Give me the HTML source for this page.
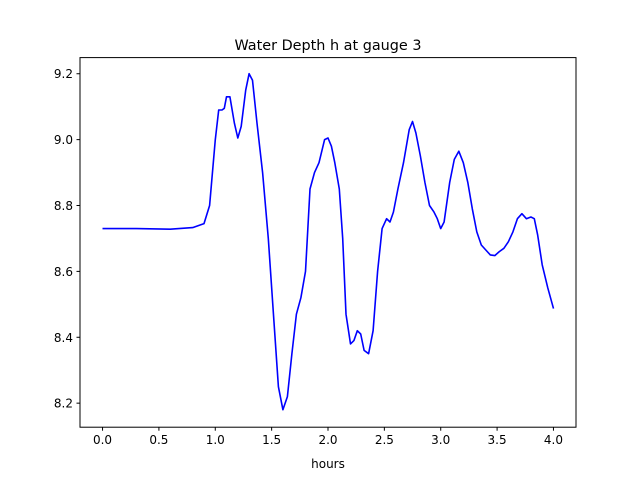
<!DOCTYPE html>
<html><head><meta charset="utf-8"><style>
html,body{margin:0;padding:0;background:#fff}
svg{display:block;font-family:"DejaVu Sans","Liberation Sans",sans-serif}
</style></head><body>
<svg id="chart" width="640" height="480" viewBox="0 0 640 480" xmlns="http://www.w3.org/2000/svg">
<rect width="640" height="480" fill="#fff"/>
<text x="328" y="50" text-anchor="middle" font-size="14.4">Water Depth h at gauge 3</text>
<g id="plot"></g>
<rect x="80" y="57.6" width="496" height="369.6" fill="none" stroke="#000" stroke-width="1"/>
<text x="328" y="468" text-anchor="middle" font-size="12">hours</text>
</svg>
<script>
const xs=[0,0.3,0.6,0.8,0.9,0.95,1.0,1.03,1.06,1.08,1.1,1.13,1.17,1.2,1.23,1.27,1.3,1.33,1.37,1.42,1.47,1.52,1.56,1.6,1.64,1.68,1.72,1.76,1.8,1.84,1.88,1.92,1.97,2.0,2.03,2.06,2.1,2.13,2.16,2.2,2.23,2.26,2.29,2.32,2.36,2.4,2.44,2.48,2.52,2.55,2.58,2.62,2.67,2.72,2.75,2.78,2.82,2.86,2.9,2.94,2.97,3.0,3.03,3.08,3.12,3.16,3.2,3.24,3.28,3.32,3.36,3.4,3.44,3.48,3.52,3.56,3.6,3.64,3.68,3.72,3.76,3.8,3.83,3.86,3.9,3.95,4.0];
const depth=[8.73,8.73,8.728,8.733,8.745,8.8,9.0,9.09,9.09,9.095,9.13,9.13,9.05,9.005,9.04,9.15,9.2,9.18,9.05,8.9,8.7,8.45,8.25,8.18,8.22,8.35,8.47,8.52,8.6,8.85,8.9,8.93,9.0,9.005,8.98,8.93,8.85,8.7,8.47,8.38,8.39,8.42,8.41,8.36,8.35,8.42,8.6,8.73,8.76,8.75,8.78,8.85,8.93,9.03,9.055,9.02,8.95,8.87,8.8,8.78,8.76,8.73,8.75,8.87,8.94,8.965,8.93,8.87,8.79,8.72,8.68,8.665,8.65,8.648,8.66,8.67,8.69,8.72,8.76,8.775,8.76,8.765,8.76,8.71,8.62,8.55,8.487];
const xTicks=[0,0.5,1,1.5,2,2.5,3,3.5,4];
const xTickLabels=["0.0","0.5","1.0","1.5","2.0","2.5","3.0","3.5","4.0"];
const yTicks=[8.2,8.4,8.6,8.8,9.0,9.2];
const yTickLabels=["8.2","8.4","8.6","8.8","9.0","9.2"];
const X0=80,X1=576,Y0=427.2,Y1=57.6,xmin=-0.2,xmax=4.2,ymin=8.127,ymax=9.249;
const sx=v=>X0+(v-xmin)/(xmax-xmin)*(X1-X0);
const sy=v=>Y0-(v-ymin)/(ymax-ymin)*(Y0-Y1);
const NS="http://www.w3.org/2000/svg",g=document.getElementById('plot');
function mk(t,a){const e=document.createElementNS(NS,t);for(const k in a)e.setAttribute(k,a[k]);g.appendChild(e);return e;}
xTicks.forEach((t,i)=>{
 const l=mk('line',{x1:sx(t),x2:sx(t),y1:Y0,y2:Y0+3.5,stroke:'#000'});
 
 
 const tx=mk('text',{x:sx(t),y:Y0+17,'text-anchor':'middle','font-size':'12'});
 tx.textContent=xTickLabels[i];
 
 
});
yTicks.forEach((t,i)=>{
 const l=mk('line',{x1:X0-3.5,x2:X0,y1:sy(t),y2:sy(t),stroke:'#000'});
 
 
 const tx=mk('text',{x:X0-7,y:sy(t)+4.5,'text-anchor':'end','font-size':'12'});
 tx.textContent=yTickLabels[i];
 
 
});
const p=mk('polyline',{points:xs.map((x,i)=>sx(x).toFixed(1)+','+sy(depth[i]).toFixed(1)).join(' '),fill:'none',stroke:'#0000ff','stroke-width':'1.6','stroke-linejoin':'round'});


</script>
</body></html>
